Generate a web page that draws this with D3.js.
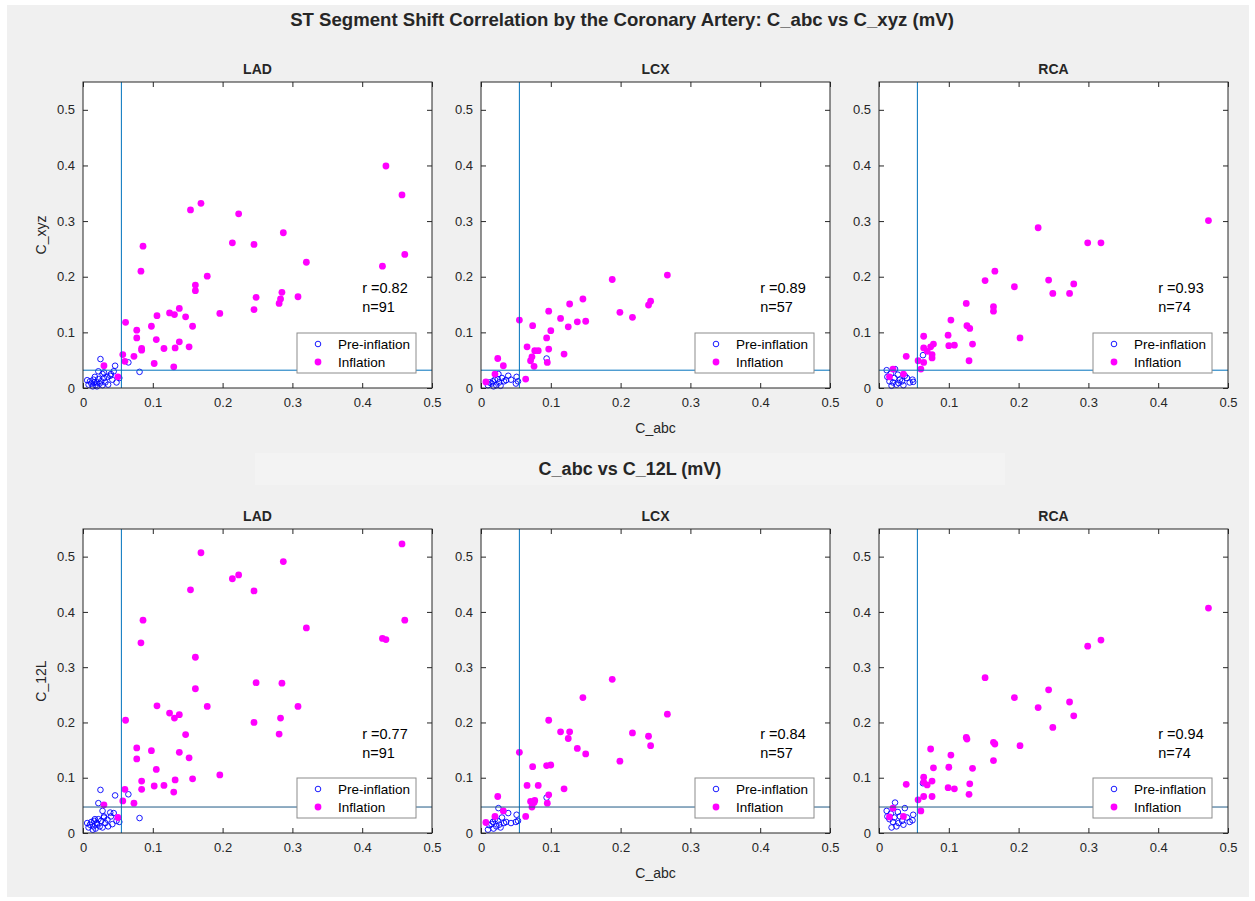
<!DOCTYPE html>
<html>
<head>
<meta charset="utf-8">
<script src="https://cdn.jsdelivr.net/npm/d3@7"></script>
<style>
  body { margin: 0; background: #ffffff; }
  svg text { font-family: "Liberation Sans", Arial, Helvetica, sans-serif; fill: #262626; }
</style>
</head>
<body>
<div id="chart"></div>
<script>
// ---- data (mV) ----
const arteries = ["LAD", "LCX", "RCA"];
const rowTitles = ["ST Segment Shift Correlation by the Coronary Artery: C_abc vs C_xyz (mV)", "C_abc vs C_12L (mV)"];
const yLabels = ["C_xyz", "C_12L"];
const xLabel = "C_abc";
const xTicks = [0, 0.1, 0.2, 0.3, 0.4, 0.5];
const yTicks = [0, 0.1, 0.2, 0.3, 0.4, 0.5];
const rValues = [[0.82, 0.89, 0.93], [0.77, 0.84, 0.94]];
const nValues = [91, 57, 74];
const thresholdX = 0.055;
const thresholdY = [0.032, 0.047];

// LAD
const ladInflX   = [0.434,0.457,0.461,0.429,0.169,0.154,0.223,0.287,0.214,0.245,0.086,0.083,0.320,0.178,0.161,0.161,0.248,0.285,0.283,0.281,0.308,0.245,0.196,0.106,0.124,0.131,0.138,0.147,0.157,0.061,0.098,0.077,0.077,0.105,0.138,0.084,0.084,0.116,0.132,0.152,0.073,0.057,0.060,0.102,0.130,0.030,0.050];
const ladInflXyz = [0.399,0.347,0.240,0.219,0.332,0.320,0.313,0.279,0.261,0.258,0.255,0.210,0.226,0.201,0.185,0.175,0.163,0.172,0.160,0.152,0.164,0.141,0.134,0.130,0.135,0.132,0.143,0.128,0.111,0.118,0.111,0.104,0.090,0.087,0.083,0.071,0.068,0.071,0.072,0.074,0.057,0.060,0.048,0.044,0.038,0.040,0.020];
const ladInfl12L = [0.350,0.523,0.385,0.352,0.507,0.440,0.467,0.491,0.460,0.438,0.385,0.344,0.371,0.229,0.318,0.261,0.272,0.271,0.208,0.179,0.229,0.200,0.105,0.230,0.217,0.208,0.214,0.178,0.098,0.204,0.149,0.154,0.134,0.115,0.146,0.094,0.079,0.086,0.096,0.136,0.054,0.058,0.079,0.085,0.074,0.051,0.028];
const ladPreX    = [0.025,0.046,0.065,0.081,0.022,0.039,0.048,0.052,0.028,0.030,0.010,0.012,0.015,0.018,0.020,0.022,0.024,0.026,0.017,0.032,0.035,0.008,0.014,0.020,0.028,0.042,0.036,0.030,0.006,0.016,0.040,0.044];
const ladPreXyz  = [0.052,0.040,0.046,0.029,0.030,0.022,0.010,0.018,0.025,0.018,0.012,0.008,0.015,0.005,0.010,0.016,0.008,0.012,0.020,0.010,0.020,0.006,0.003,0.003,0.005,0.015,0.006,0.028,0.014,0.010,0.025,0.030];
const ladPre12L  = [0.078,0.068,0.070,0.027,0.054,0.037,0.022,0.020,0.040,0.030,0.015,0.020,0.012,0.008,0.018,0.025,0.012,0.022,0.025,0.018,0.024,0.010,0.006,0.015,0.010,0.016,0.012,0.028,0.018,0.022,0.030,0.036];

// LCX
const lcxInflX   = [0.267,0.188,0.243,0.240,0.146,0.127,0.199,0.217,0.097,0.114,0.138,0.150,0.055,0.074,0.125,0.100,0.094,0.066,0.077,0.082,0.097,0.073,0.071,0.119,0.095,0.076,0.024,0.032,0.064,0.020,0.007];
const lcxInflXyz = [0.203,0.195,0.156,0.149,0.160,0.151,0.136,0.127,0.138,0.125,0.119,0.120,0.122,0.112,0.110,0.103,0.090,0.074,0.067,0.067,0.070,0.056,0.049,0.061,0.046,0.039,0.053,0.040,0.016,0.025,0.011];
const lcxInfl12L = [0.215,0.278,0.158,0.175,0.245,0.183,0.130,0.181,0.204,0.183,0.153,0.143,0.146,0.120,0.171,0.123,0.122,0.086,0.059,0.086,0.069,0.047,0.057,0.080,0.054,0.055,0.066,0.040,0.030,0.030,0.019];
const lcxPreX    = [0.094,0.051,0.053,0.050,0.039,0.025,0.030,0.033,0.020,0.015,0.018,0.022,0.026,0.012,0.028,0.036,0.017,0.024,0.043,0.010];
const lcxPreXyz  = [0.053,0.020,0.012,0.008,0.022,0.025,0.018,0.012,0.015,0.008,0.003,0.005,0.010,0.010,0.004,0.014,0.012,0.016,0.015,0.005];
const lcxPre12L  = [0.064,0.033,0.022,0.020,0.036,0.045,0.028,0.018,0.025,0.016,0.008,0.012,0.015,0.014,0.010,0.020,0.020,0.022,0.018,0.006];

// RCA
const rcaInflX   = [0.472,0.228,0.299,0.318,0.166,0.152,0.243,0.279,0.194,0.249,0.273,0.125,0.164,0.164,0.103,0.126,0.130,0.099,0.064,0.202,0.100,0.108,0.134,0.078,0.074,0.064,0.069,0.076,0.076,0.039,0.056,0.064,0.129,0.060,0.035,0.020,0.015];
const rcaInflXyz = [0.301,0.288,0.261,0.261,0.210,0.193,0.194,0.187,0.182,0.170,0.170,0.152,0.146,0.138,0.122,0.112,0.107,0.095,0.093,0.090,0.076,0.077,0.079,0.079,0.074,0.072,0.066,0.060,0.054,0.057,0.049,0.046,0.049,0.034,0.025,0.034,0.020];
const rcaInfl12L = [0.407,0.227,0.338,0.349,0.161,0.281,0.259,0.212,0.245,0.191,0.237,0.173,0.164,0.131,0.141,0.170,0.089,0.082,0.101,0.158,0.119,0.080,0.117,0.118,0.152,0.092,0.087,0.094,0.066,0.088,0.060,0.066,0.070,0.040,0.030,0.045,0.029];
const rcaPreX    = [0.063,0.049,0.048,0.011,0.023,0.037,0.030,0.020,0.015,0.025,0.018,0.028,0.033,0.040,0.012,0.022,0.035,0.044,0.027,0.017];
const rcaPreXyz  = [0.059,0.011,0.015,0.032,0.034,0.022,0.015,0.010,0.012,0.006,0.004,0.009,0.012,0.018,0.020,0.018,0.005,0.010,0.024,0.026];
const rcaPre12L  = [0.090,0.033,0.023,0.040,0.055,0.045,0.030,0.020,0.025,0.012,0.010,0.018,0.022,0.028,0.030,0.028,0.015,0.020,0.038,0.035];

// tables built from the arrays above: [row][col]
const panelData = [
  [
    { preX: ladPreX, preY: ladPreXyz, inflX: ladInflX, inflY: ladInflXyz },
    { preX: lcxPreX, preY: lcxPreXyz, inflX: lcxInflX, inflY: lcxInflXyz },
    { preX: rcaPreX, preY: rcaPreXyz, inflX: rcaInflX, inflY: rcaInflXyz }
  ],
  [
    { preX: ladPreX, preY: ladPre12L, inflX: ladInflX, inflY: ladInfl12L },
    { preX: lcxPreX, preY: lcxPre12L, inflX: lcxInflX, inflY: lcxInfl12L },
    { preX: rcaPreX, preY: rcaPre12L, inflX: rcaInflX, inflY: rcaInfl12L }
  ]
];

// ---- layout ----
let w = 1255, h = 901;
let colLeft = [83, 481, 879];
let axW = 349;
let rowTop = [82, 529],
    rowBottom = [388, 833];
let axisColor = "#262626";
let lineColor = "#0072BD";
let preR = 2.8, inflR = 3.4;

let svg = d3.select("#chart")
            .append("svg")
            .attr("width", w)
            .attr("height", h);

// figure background
svg.append("rect")
   .attr("x", 7).attr("y", 5)
   .attr("width", 1242).attr("height", 892)
   .attr("fill", "#f0f0f0");

// second-row title band
svg.append("rect")
   .attr("x", 255).attr("y", 453)
   .attr("width", 750).attr("height", 32)
   .attr("fill", "#f3f3f3");

svg.append("text")
   .attr("x", 622).attr("y", 19)
   .attr("text-anchor", "middle")
   .attr("dominant-baseline", "central")
   .style("font-size", "18.6px")
   .style("font-weight", "bold")
   .text(rowTitles[0]);

svg.append("text")
   .attr("x", 630).attr("y", 469)
   .attr("text-anchor", "middle")
   .attr("dominant-baseline", "central")
   .style("font-size", "18px")
   .style("font-weight", "bold")
   .text(rowTitles[1]);

for (let r = 0; r < 2; r++) {
  for (let c = 0; c < 3; c++) {
    let left = colLeft[c],
        top = rowTop[r],
        bottom = rowBottom[r];
    let d = panelData[r][c];

    let x = d3.scaleLinear().domain([0, 0.5]).range([left, left + axW]);
    let y = d3.scaleLinear().domain([0, 0.55]).range([bottom, top]);

    let g = svg.append("g");

    g.append("rect")
     .attr("x", left).attr("y", top)
     .attr("width", axW).attr("height", bottom - top)
     .attr("fill", "#ffffff");

    // points: pre-inflation first, inflation on top
    g.selectAll(".pre")
     .data(d3.zip(d.preX, d.preY))
     .enter()
     .append("circle")
     .attr("class", "pre")
     .attr("cx", p => x(p[0]))
     .attr("cy", p => y(p[1]))
     .attr("r", preR)
     .attr("fill", "none")
     .attr("stroke", "#0000ff")
     .attr("stroke-width", 0.9);

    g.selectAll(".infl")
     .data(d3.zip(d.inflX, d.inflY))
     .enter()
     .append("circle")
     .attr("class", "infl")
     .attr("cx", p => x(p[0]))
     .attr("cy", p => y(p[1]))
     .attr("r", inflR)
     .attr("fill", "#ff00ff");

    // threshold lines
    g.append("line")
     .attr("x1", x(thresholdX)).attr("x2", x(thresholdX))
     .attr("y1", top).attr("y2", bottom)
     .attr("stroke", lineColor).attr("stroke-width", 1);
    g.append("line")
     .attr("x1", left).attr("x2", left + axW)
     .attr("y1", y(thresholdY[r])).attr("y2", y(thresholdY[r]))
     .attr("stroke", r == 0 ? lineColor : "#1f5a85").attr("stroke-width", 1);

    // axes, ticks pointing inward (box on)
    let xAxis = d3.axisBottom(x).tickValues(xTicks).tickSize(-5).tickPadding(10).tickFormat(d3.format("~g"));
    let yAxis = d3.axisLeft(y).tickValues(yTicks).tickSize(-5).tickPadding(8).tickFormat(d3.format("~g"));

    let gx = g.append("g").attr("transform", `translate(0, ${bottom})`).call(xAxis);
    let gy = g.append("g").attr("transform", `translate(${left}, 0)`).call(yAxis);
    let gxTop = g.append("g").attr("transform", `translate(0, ${top})`)
                 .call(d3.axisTop(x).tickValues(xTicks).tickSize(-5).tickFormat(""));
    let gyRight = g.append("g").attr("transform", `translate(${left + axW}, 0)`)
                   .call(d3.axisRight(y).tickValues(yTicks).tickSize(-5).tickFormat(""));

    [gx, gy, gxTop, gyRight].forEach(a => {
      a.select(".domain").remove();
      a.selectAll(".tick line").attr("stroke", axisColor);
      a.selectAll(".tick text")
       .style("font-size", "13px")
       .style("font-family", "\"Liberation Sans\", Arial, sans-serif")
       .attr("fill", axisColor);
    });

    g.append("rect")
     .attr("x", left).attr("y", top)
     .attr("width", axW).attr("height", bottom - top)
     .attr("fill", "none")
     .attr("stroke", axisColor)
     .attr("stroke-width", 1);

    // panel title
    g.append("text")
     .attr("x", left + axW / 2).attr("y", top - 13)
     .attr("text-anchor", "middle")
     .attr("dominant-baseline", "central")
     .style("font-size", "14px")
     .style("font-weight", "bold")
     .text(arteries[c]);

    // r and n annotation
    g.append("text")
     .attr("x", x(0.4)).attr("y", y(0.18))
     .attr("dominant-baseline", "central")
     .style("font-size", "14.5px")
     .style("fill", "#000")
     .text(`r =${rValues[r][c].toFixed(2)}`);
    g.append("text")
     .attr("x", x(0.4)).attr("y", y(0.145))
     .attr("dominant-baseline", "central")
     .style("font-size", "14.5px")
     .style("fill", "#000")
     .text(`n=${nValues[c]}`);

    // legend
    let lx = left + axW - 135,
        ly = bottom - 15 - 40;
    let lg = g.append("g").attr("transform", `translate(${lx}, ${ly})`);
    lg.append("rect")
      .attr("width", 119).attr("height", 40)
      .attr("fill", "#ffffff")
      .attr("stroke", "#8c8c8c")
      .attr("stroke-width", 1);
    lg.append("circle")
      .attr("cx", 21).attr("cy", 11).attr("r", preR)
      .attr("fill", "none").attr("stroke", "#0000ff").attr("stroke-width", 0.9);
    lg.append("circle")
      .attr("cx", 21).attr("cy", 29).attr("r", inflR)
      .attr("fill", "#ff00ff");
    lg.append("text")
      .attr("x", 41).attr("y", 11)
      .attr("dominant-baseline", "central")
      .style("font-size", "13.5px").style("fill", "#000")
      .text("Pre-inflation");
    lg.append("text")
      .attr("x", 41).attr("y", 29)
      .attr("dominant-baseline", "central")
      .style("font-size", "13.5px").style("fill", "#000")
      .text("Inflation");

    // axis labels
    if (c == 0) {
      g.append("text")
       .attr("transform", `translate(41, ${(top + bottom) / 2}) rotate(-90)`)
       .attr("text-anchor", "middle")
       .attr("dominant-baseline", "central")
       .style("font-size", "14px")
       .text(yLabels[r]);
    }
    if (c == 1) {
      g.append("text")
       .attr("x", left + axW / 2).attr("y", bottom + 40)
       .attr("text-anchor", "middle")
       .attr("dominant-baseline", "central")
       .style("font-size", "14px")
       .text(xLabel);
    }
  }
}
</script>
</body>
</html>
